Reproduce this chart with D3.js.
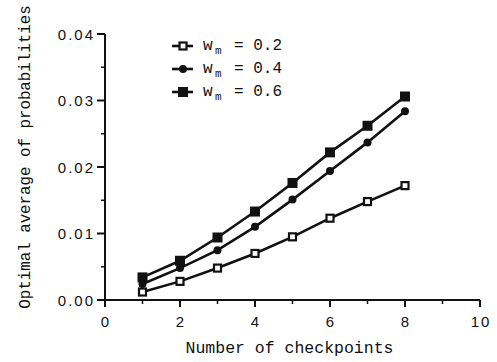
<!DOCTYPE html>
<html>
<head>
<meta charset="utf-8">
<script src="https://cdn.jsdelivr.net/npm/d3@7"></script>
<style>
  body { margin: 0; background: #fff; }
  svg { display: block; }
  .tick-label { font-family: "Liberation Sans", Arial, sans-serif; font-size: 15px; letter-spacing: 2px; fill: #111; }
  .mono { font-family: "Liberation Mono", "Courier New", monospace; fill: #111; }
</style>
</head>
<body>
<div id="chart"></div>
<script>
const checkpoints = [1, 2, 3, 4, 5, 6, 7, 8];
const wm02 = [0.0012, 0.0028, 0.0048, 0.0070, 0.0095, 0.0123, 0.0148, 0.0172];
const wm04 = [0.0024, 0.0048, 0.0075, 0.0110, 0.0151, 0.0194, 0.0237, 0.0284];
const wm06 = [0.0034, 0.0059, 0.0094, 0.0133, 0.0176, 0.0222, 0.0262, 0.0306];
const seriesNames = ['0.2', '0.4', '0.6'];
const seriesMarkers = ['openSquare', 'circle', 'square'];
const xTicks = [0, 2, 4, 6, 8, 10];
const yTicks = [0.00, 0.01, 0.02, 0.03, 0.04];

const width = 497, height = 362;
const ink = '#111';

const svg = d3.select('#chart').append('svg')
  .attr('width', width)
  .attr('height', height);

const x = d3.scaleLinear().domain([0, 10]).range([105, 480]);
const y = d3.scaleLinear().domain([0, 0.04]).range([300, 34]);

// axes
const xAxis = svg.append('g').attr('transform', `translate(0,${y(0)})`);
xAxis.append('line')
  .attr('x1', x(0)).attr('x2', x(10))
  .attr('stroke', ink).attr('stroke-width', 2);
xAxis.selectAll('.minor').data(d3.range(1, 10, 2)).enter().append('line')
  .attr('x1', d => x(d)).attr('x2', d => x(d))
  .attr('y1', 0).attr('y2', 4)
  .attr('stroke', ink).attr('stroke-width', 1.5);
xAxis.selectAll('.major').data(xTicks).enter().append('line')
  .attr('x1', d => x(d)).attr('x2', d => x(d))
  .attr('y1', 0).attr('y2', 7)
  .attr('stroke', ink).attr('stroke-width', 2);
xAxis.selectAll('text').data(xTicks).enter().append('text')
  .attr('class', 'tick-label')
  .attr('x', d => x(d) + 1)
  .attr('y', 27)
  .attr('text-anchor', 'middle')
  .text(d => d);

const yAxis = svg.append('g').attr('transform', `translate(${x(0)},0)`);
yAxis.append('line')
  .attr('y1', y(0)).attr('y2', y(0.04))
  .attr('stroke', ink).attr('stroke-width', 2);
yAxis.selectAll('.minor').data([0.005, 0.015, 0.025, 0.035]).enter().append('line')
  .attr('y1', d => y(d)).attr('y2', d => y(d))
  .attr('x1', -4).attr('x2', 0)
  .attr('stroke', ink).attr('stroke-width', 1.5);
yAxis.selectAll('.major').data(yTicks).enter().append('line')
  .attr('y1', d => y(d)).attr('y2', d => y(d))
  .attr('x1', -8).attr('x2', 0)
  .attr('stroke', ink).attr('stroke-width', 2);
yAxis.selectAll('text').data(yTicks).enter().append('text')
  .attr('class', 'tick-label')
  .attr('x', -10)
  .attr('y', d => y(d) + 5.5)
  .attr('text-anchor', 'end')
  .text(d => d3.format('.2f')(d));

// axis titles
svg.append('text')
  .attr('class', 'mono')
  .attr('x', x(5) - 3)
  .attr('y', 353)
  .attr('text-anchor', 'middle')
  .style('font-size', '16.5px')
  .text('Number of checkpoints');

svg.append('text')
  .attr('class', 'mono')
  .attr('transform', 'translate(30,157) rotate(-90)')
  .attr('text-anchor', 'middle')
  .style('font-size', '15.8px')
  .text('Optimal average of probabilities');

// markers
function drawMarker(g, type, cx, cy) {
  if (type === 'square') {
    g.append('rect').attr('x', cx - 5).attr('y', cy - 5)
      .attr('width', 10).attr('height', 10).attr('fill', ink);
  } else if (type === 'openSquare') {
    g.append('rect').attr('x', cx - 3.5).attr('y', cy - 3.5)
      .attr('width', 7).attr('height', 7)
      .attr('fill', '#fff').attr('stroke', ink).attr('stroke-width', 2.2);
  } else {
    g.append('circle').attr('cx', cx).attr('cy', cy).attr('r', 4).attr('fill', ink);
  }
}

const series = [wm02, wm04, wm06];
const line = d3.line().x((d, i) => x(checkpoints[i])).y(d => y(d));

series.forEach((vals, s) => {
  const g = svg.append('g');
  g.append('path')
    .attr('d', line(vals))
    .attr('fill', 'none')
    .attr('stroke', ink)
    .attr('stroke-width', 2.6);
  vals.forEach((v, i) => drawMarker(g, seriesMarkers[s], x(checkpoints[i]), y(v)));
});

// legend
const legendRows = [46, 69, 92];
seriesNames.forEach((name, s) => {
  const g = svg.append('g');
  const ly = legendRows[s];
  g.append('line')
    .attr('x1', 172).attr('x2', 193)
    .attr('y1', ly).attr('y2', ly)
    .attr('stroke', ink).attr('stroke-width', 2.6);
  drawMarker(g, seriesMarkers[s], 183, ly);
  const t = g.append('text').attr('class', 'mono').attr('y', ly + 4).style('font-size', '16px');
  t.append('tspan').attr('x', 203).text('w');
  t.append('tspan').attr('x', 215).attr('dy', 4).style('font-size', '11px').text('m');
  t.append('tspan').attr('x', 234).attr('dy', -4).text('= ' + name);
});
</script>
</body>
</html>
